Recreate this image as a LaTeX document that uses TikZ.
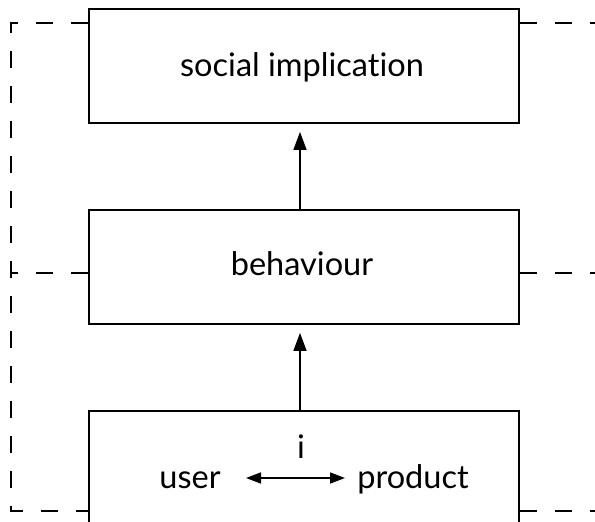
\documentclass[tikz,border=0pt]{standalone}
\usepackage{fontspec}
\setmainfont{Lato}[Ligatures={NoCommon,NoContextual}]
\usetikzlibrary{arrows.meta}
\begin{document}
\begin{tikzpicture}[x=1pt,y=-1pt,
  box/.style={draw,line width=1.8pt,minimum width=430pt,minimum height=114pt,inner sep=0pt},
  lbl/.style={font=\fontsize{32.5}{36}\selectfont,inner sep=0pt},
  dline/.style={line width=1.8pt,dash pattern=on 17pt off 18pt},
  arr/.style={line width=1.6pt,shorten >=8pt,-{Triangle[length=18pt,width=13pt]}},
  darr/.style={line width=1.6pt,{Triangle[length=15pt,width=11pt]}-{Triangle[length=15pt,width=11pt]}}]
\useasboundingbox (0,0) rectangle (595,522);
\node[box] (top) at (304,66) {};
\node[box] (mid) at (304,267) {};
\node[box] (bot) at (304,468) {};
\node[lbl,anchor=base] (tt) at (302,76) {social implication};
\node[lbl,anchor=base] (mt) at (302,275) {behaviour};
\node[lbl,anchor=base] (it) at (301,458) {i};
\node[lbl,anchor=base] (user) at (190,488) {user};
\node[lbl,anchor=base] (prod) at (413,488) {product};
\coordinate (ua) at (246,478);
\coordinate (pa) at (345,478);
\draw[darr] (ua) -- (pa);
\draw[arr] ([xshift=-4pt]mid.north) -- ([xshift=-4pt]top.south);
\draw[arr] ([xshift=-4pt]bot.north) -- ([xshift=-4pt]mid.south);
\coordinate (c1) at (11,23);
\coordinate (c2) at (11,511);
\coordinate (c3) at (11,273);
\draw[dline] (top.west |- c1) -- (c1) -- (c2) -- (bot.west |- c2);
\draw[dline] (mid.west |- c3) -- (c3);
\coordinate (r1) at (600,23);
\coordinate (r2) at (600,273);
\coordinate (r3) at (600,511);
\draw[dline] (top.east |- r1) -- (r1);
\draw[dline] (mid.east |- r2) -- (r2);
\draw[dline] (bot.east |- r3) -- (r3);
\end{tikzpicture}
\end{document}
